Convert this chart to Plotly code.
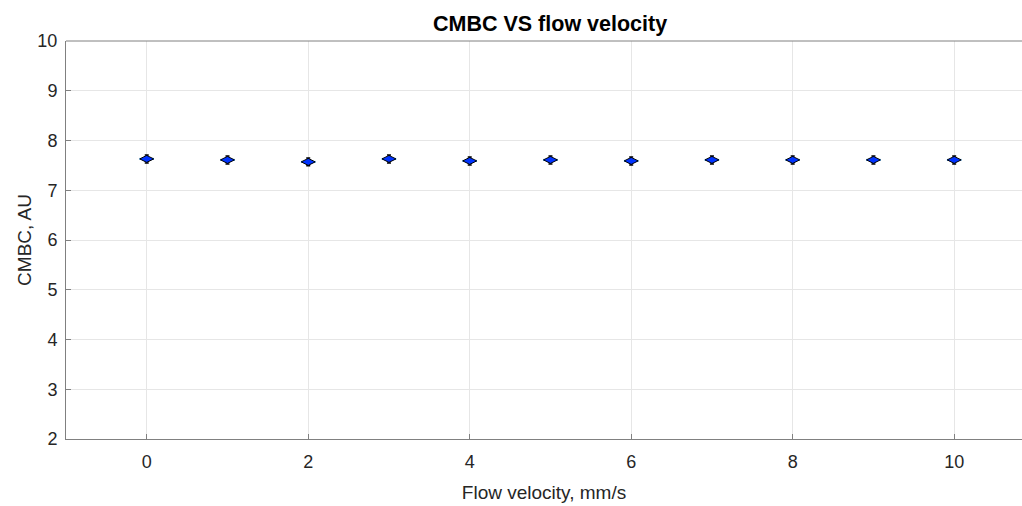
import plotly.graph_objects as go

flow_velocity = [0, 1, 2, 3, 4, 5, 6, 7, 8, 9, 10]
cmbc = [7.63, 7.61, 7.57, 7.63, 7.59, 7.61, 7.59, 7.61, 7.61, 7.61, 7.61]
cmbc_err = [0.08] * len(flow_velocity)
x_err = [0.09] * len(flow_velocity)
x_ticks = [0, 2, 4, 6, 8, 10]
y_ticks = [2, 3, 4, 5, 6, 7, 8, 9, 10]

font = "Liberation Sans, Arial, sans-serif"

fig = go.Figure()
fig.add_trace(go.Scatter(
    x=flow_velocity, y=cmbc, mode="markers",
    marker=dict(symbol="diamond-wide", size=10, color="#0033ff",
                line=dict(color="#000000", width=1)),
    error_y=dict(type="data", array=cmbc_err, color="#000000", thickness=1.5, width=2),
    error_x=dict(type="data", array=x_err, color="#3fa9f5", thickness=2, width=0),
    showlegend=False,
))

axis_common = dict(
    showline=True, linecolor="#808080", linewidth=1, mirror=False,
    showgrid=True, gridcolor="#e6e6e6", gridwidth=1, zeroline=False,
    ticks="inside", ticklen=5, tickcolor="#808080",
    tickfont=dict(family=font, size=18, color="#262626"),
)

fig.update_layout(
    width=1022, height=506,
    margin=dict(l=66, r=0, t=41, b=67),
    paper_bgcolor="white", plot_bgcolor="white",
    xaxis=dict(range=[-1, 10.84], tickvals=x_ticks, ticklabelstandoff=6,
               title=dict(text="Flow velocity, mm/s", font=dict(family=font, size=19, color="#262626"), standoff=15),
               **axis_common),
    yaxis=dict(range=[2, 10], tickvals=y_ticks, ticklabelstandoff=4,
               title=dict(text="CMBC, AU", font=dict(family=font, size=19, color="#262626"), standoff=0),
               **axis_common),
    annotations=[dict(text="<b>CMBC VS flow velocity</b>", x=5, xref="x", y=1, yref="paper",
                      yanchor="bottom", yshift=3, showarrow=False,
                      font=dict(family=font, size=21.5, color="#000000"))],
)
fig.add_shape(type="line", xref="paper", yref="paper", x0=0, x1=1, y0=1, y1=1,
              line=dict(color="#808080", width=1))

fig.write_html("out.html", config={"displayModeBar": False},
               post_script="document.body.style.margin='0';")
